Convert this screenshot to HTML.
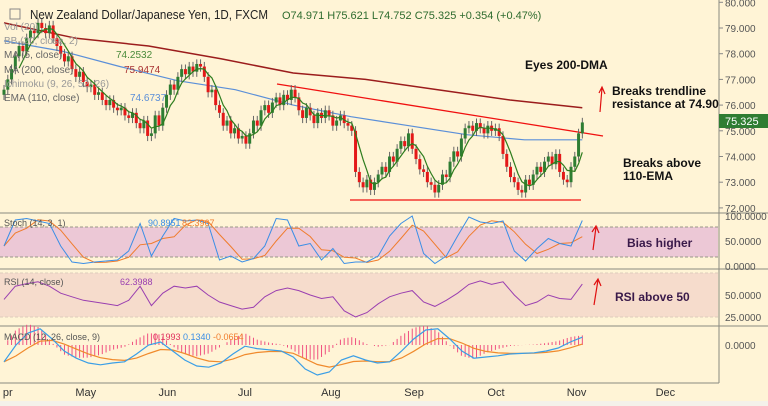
<!DOCTYPE html>
<html><head><meta charset="utf-8"><style>
html,body{margin:0;padding:0;background:#fff4d6;}
svg{display:block;font-family:"Liberation Sans",sans-serif;}
</style></head><body>
<svg id="c" width="768" height="406" viewBox="0 0 768 406">
<rect x="0" y="0" width="768" height="406" fill="#fff4d6"/>
<rect x="0" y="401" width="768" height="5" fill="#f4f1ea"/>
<rect x="0" y="227" width="718" height="30" fill="#ecc8d6"/>
<line x1="0" y1="227" x2="718" y2="227" stroke="#998" stroke-dasharray="3,2"/>
<line x1="0" y1="257" x2="718" y2="257" stroke="#998" stroke-dasharray="3,2"/>
<rect x="0" y="273" width="718" height="44" fill="#f6dccc"/>
<line x1="0" y1="273" x2="718" y2="273" stroke="#dcb" stroke-dasharray="3,2"/>
<line x1="0" y1="317" x2="718" y2="317" stroke="#dcb" stroke-dasharray="3,2"/>
<g stroke="#8a8a80" stroke-width="1">
<line x1="0" y1="213" x2="768" y2="213"/>
<line x1="0" y1="269" x2="768" y2="269"/>
<line x1="0" y1="326" x2="768" y2="326"/>
<line x1="0" y1="383" x2="719" y2="383"/>
<line x1="719" y1="0" x2="719" y2="383"/>
</g>
<g id="marks"></g>
<g font-size="10" fill="#999">
<text x="4" y="30">Vol (20)</text>
<text x="4" y="44">BB (20, close, 2)</text>
<text x="4" y="58" fill="#666">MA (5, close)</text>
<text x="116" y="58" fill="#4a8a3a">74.2532</text>
<text x="4" y="73" fill="#666">MA (200, close)</text>
<text x="124" y="73" fill="#a33">75.9474</text>
<text x="4" y="87">Ichimoku (9, 26, 52, 26)</text>
<text x="4" y="101" fill="#666">EMA (110, close)</text>
<text x="130" y="101" fill="#5b8fd8">74.6737</text>
</g>
<rect x="10" y="9" width="10" height="10" fill="none" stroke="#888"/>
<text x="30" y="19" font-size="13" fill="#222" textLength="238" lengthAdjust="spacingAndGlyphs">New Zealand Dollar/Japanese Yen, 1D, FXCM</text>
<text x="282" y="19" font-size="11" fill="#2e6b2e">O74.971  H75.621  L74.752  C75.325  +0.354 (+0.47%)</text>
<g font-size="9" fill="#555">
<text x="4" y="226">Stoch (14, 3, 1)</text>
<text x="148" y="226" fill="#3a8ee6">90.8951</text>
<text x="182" y="226" fill="#f07c2c">82.3967</text>
<text x="4" y="285">RSI (14, close)</text>
<text x="120" y="285" fill="#9a3fb0">62.3988</text>
<text x="4" y="340">MACD (12, 26, close, 9)</text>
<text x="153" y="340" fill="#e0305c">0.1993</text>
<text x="183" y="340" fill="#3a8ee6">0.1340</text>
<text x="213" y="340" fill="#f07c2c">-0.0654</text>
</g>
<g font-size="12" font-weight="bold" fill="#111">
<text x="525" y="69">Eyes 200-DMA</text>
<text x="612" y="95">Breaks trendline</text>
<text x="612" y="108">resistance at 74.90</text>
<text x="623" y="167">Breaks above</text>
<text x="623" y="180">110-EMA</text>
<text x="627" y="247" fill="#3a1a4a">Bias higher</text>
<text x="615" y="301" fill="#3a1a4a">RSI above 50</text>
</g>
<g stroke="#e01010" stroke-width="1.2" fill="none">
<path d="M600 112 L602 88 M599 93 L602 87 L605 94"/>
<path d="M593 250 L596 227 M592 232 L596 226 L599 233"/>
<path d="M594 305 L598 280 M594 285 L598 279 L601 286"/>
</g>
<g id="axes" font-size="10" fill="#555"></g>
<rect x="719" y="114" width="49" height="14" fill="#2f7d32"/>
<text x="725" y="125" font-size="11" fill="#fff">75.325</text>
</svg>
<script>
const closes=[76.6,77.0,77.4,77.9,78.3,78.1,78.6,78.9,78.8,79.2,
79.0,78.8,79.1,78.6,78.3,78.0,77.7,77.9,77.4,77.1,
77.3,76.9,76.7,76.8,76.4,76.5,76.2,76.0,76.2,75.9,75.8,
75.9,75.6,75.5,75.7,75.3,75.1,75.4,74.8,74.9,75.6,75.2,
75.9,76.4,76.8,76.6,77.1,77.4,77.2,77.5,77.3,77.6,77.5,
77.1,76.5,76.6,76.0,75.7,75.2,75.4,74.9,75.1,74.7,74.8,74.5,
74.9,75.4,75.2,75.8,76.0,75.7,76.1,76.3,76.0,76.4,76.2,76.6,
76.3,75.8,75.5,75.9,75.6,75.3,75.7,75.5,75.8,75.6,75.2,75.4,75.6,75.3,75.2,75.0,
73.4,73.0,72.8,73.1,72.7,73.0,
73.3,73.6,73.4,74.0,73.8,74.3,74.6,74.4,74.9,
74.3,73.9,73.5,73.4,73.0,72.9,72.6,
72.9,73.3,73.2,73.8,74.2,74.0,74.7,75.1,
75.2,75.0,75.3,75.1,74.9,75.2,75.0,75.1,
74.8,74.1,73.6,73.2,73.0,72.7,72.6,
73.1,72.9,73.3,73.6,73.4,73.8,74.0,
73.7,74.1,73.4,73.1,73.0,
73.6,74.0,74.9,75.325];
const firstOpen=76.4;
const ma200=[79.2,78.6,78.3,77.8,77.25,77.0,76.6,76.2,75.9];
const ema110=[78.5,78.1,77.5,76.95,76.6,76.0,75.55,75.2,74.85,74.65,74.65];
const stochK=[40,92,95,90,85,40,8,5,8,10,12,30,85,20,60,95,90,92,85,12,20,8,15,40,95,92,40,45,12,35,5,8,8,20,60,85,100,25,5,20,60,98,88,85,90,30,10,35,55,45,40,91];
const rsi=[45,60,63,65,60,52,48,44,42,40,38,44,60,38,52,60,58,60,50,42,38,34,36,48,55,58,55,50,46,48,32,25,30,40,48,52,55,42,37,44,52,62,66,62,65,50,38,42,50,46,45,62.4];
const macd=[-0.28,0.0,0.2,0.27,0.1,-0.1,-0.22,-0.3,-0.33,-0.3,-0.28,-0.15,0.0,0.05,-0.1,-0.25,-0.35,-0.37,-0.3,-0.15,-0.02,-0.06,-0.08,-0.1,-0.2,-0.4,-0.5,-0.45,-0.25,-0.18,-0.25,-0.3,-0.28,-0.1,0.1,0.25,0.27,0.1,-0.1,-0.22,-0.2,-0.18,-0.15,-0.14,-0.13,-0.1,-0.05,0.05,0.13];
const priceTicks=[80,79,78,77,76,75,74,73,72];
const months=["pr","May","Jun","Jul","Aug","Sep","Oct","Nov","Dec"];
const monthIdx=[-0.3,21,43,64,86,108,130,151,174.5];

const NS="http://www.w3.org/2000/svg";
const g=document.getElementById('marks'), ax=document.getElementById('axes');
const N=closes.length;
const xOf=i=>4+i*3.78;
const yP=p=>28+(79-p)*25.7;
const yS=v=>266-v*0.5;
const yR=v=>295-(v-50)*0.88;
const yM=v=>345-v*60;
function el(t,a,parent){const e=document.createElementNS(NS,t);for(const k in a)e.setAttribute(k,a[k]);(parent||g).appendChild(e);return e;}
function line(pts,color,w,name){
  const p=el('polyline',{points:pts.map(q=>q[0].toFixed(1)+','+q[1].toFixed(1)).join(' '),fill:'none',stroke:color,'stroke-width':w});
  
  
}
priceTicks.forEach(p=>{
  const t=el('text',{x:725,y:yP(p)+4},ax);t.textContent=p.toFixed(3);
  
  
  el('line',{x1:719,x2:723,y1:yP(p),y2:yP(p),stroke:'#888'},ax);
});
[[100,yS(100)],[50,yS(50)],[0,yS(0)]].forEach(a=>{const t=el('text',{x:725,y:a[1]+4},ax);t.textContent=a[0].toFixed(4);
  
  });
[50,25].forEach(v=>{const t=el('text',{x:725,y:yR(v)+4},ax);t.textContent=v.toFixed(4);
  
  });
{const t=el('text',{x:725,y:yM(0)+4},ax);t.textContent='0.0000';
  
  }
months.forEach((m,k)=>{const t=el('text',{x:xOf(monthIdx[k])-(k?8:0),y:396,'font-size':'11','fill':'#333'},ax);t.textContent=m;
  
  });
line(ma200.map((v,k)=>[xOf(k*(N-1)/(ma200.length-1)),yP(v)]),'#9b1c1c',1.5,'ma200-line');
line(ema110.map((v,k)=>[xOf(k*(N-1)/(ema110.length-1)),yP(v)]),'#5b8fd8',1.2,'ema110-line');
line([[277,84],[603,136]],'#f01010',1.3,'resistance-trendline');
line([[350,200],[581,200]],'#f01010',1.3,'support-line');
for(let i=0;i<N;i++){
  const o=i?closes[i-1]:firstOpen, c=closes[i];
  const hi=Math.max(o,c)+0.18, lo=Math.min(o,c)-0.2;
  const x=xOf(i), up=c>=o;
  const w=el('line',{x1:x,x2:x,y1:yP(hi),y2:yP(lo),stroke:'#666','stroke-width':1});
  
  
  const b=el('rect',{x:x-1.5,y:yP(Math.max(o,c)),width:3,height:Math.max(1,Math.abs(yP(o)-yP(c))),fill:up?'#2e7d32':'#e41818'});
  
  
}
const ma5=[];for(let i=4;i<N;i++){let s=0;for(let k=0;k<5;k++)s+=closes[i-k];ma5.push([xOf(i),yP(s/5)]);}
line(ma5,'#2e7d1e',1.2,'ma5-line');
const sx=j=>xOf(j*(N-1)/(stochK.length-1));
const stochD=stochK.map((v,j)=>{const a=stochK.slice(Math.max(0,j-2),j+1);return a.reduce((s,q)=>s+q,0)/a.length;});
line(stochD.map((v,j)=>[sx(j),yS(v)]),'#f07c2c',1,'stoch-d-line');
line(stochK.map((v,j)=>[sx(j),yS(v)]),'#3a8ee6',1,'stoch-k-line');
const rx=j=>xOf(j*(N-1)/(rsi.length-1));
line(rsi.map((v,j)=>[rx(j),yR(v)]),'#9a3fb0',1,'rsi-line');
const mx=j=>xOf(j*(N-1)/(macd.length-1));
const sig=[];let e=macd[0];macd.forEach(v=>{e=e+(v-e)*0.35;sig.push(e);});
for(let i=0;i<N;i++){
  const f=i*(macd.length-1)/(N-1), j=Math.floor(f), t=f-j;
  const m=macd[j]+(j+1<macd.length?(macd[j+1]-macd[j])*t:0);
  const s=sig[j]+(j+1<sig.length?(sig[j+1]-sig[j])*t:0);
  const h=(m-s)*1.4;
  const b=el('line',{x1:xOf(i),x2:xOf(i),y1:yM(0),y2:yM(h),stroke:'#f05080','stroke-width':1});
  
  
}
line(sig.map((v,j)=>[mx(j),yM(v)]),'#f08a2c',1.2,'macd-signal-line');
line(macd.map((v,j)=>[mx(j),yM(v)]),'#3a9ee6',1.2,'macd-line');
</script>
</body></html>
